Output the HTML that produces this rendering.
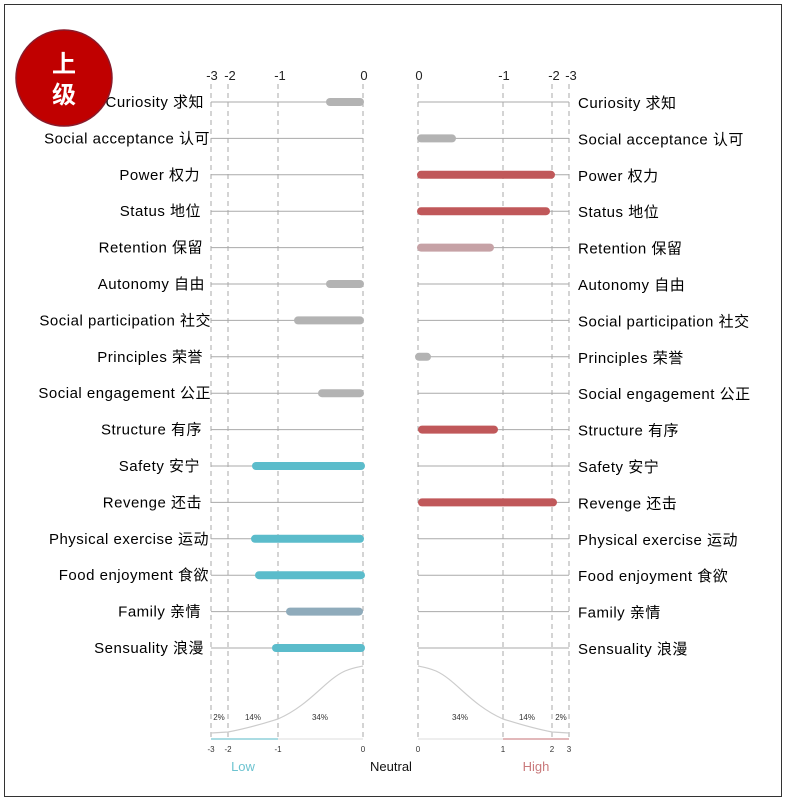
<!DOCTYPE html>
<html><head><meta charset="utf-8"><style>
body{margin:0;background:#fff;}
svg{display:block;font-family:"Liberation Sans","Noto Sans CJK SC",sans-serif;}
</style></head><body>
<svg width="785" height="803" viewBox="0 0 785 803" xmlns="http://www.w3.org/2000/svg">
<rect x="4.5" y="4.5" width="777" height="792" fill="#fff" stroke="#333" stroke-width="1"/>
<g stroke="#aaa" stroke-width="1" stroke-dasharray="5,4">
<line x1="211" y1="84" x2="211" y2="740"/><line x1="228" y1="84" x2="228" y2="740"/>
<line x1="278" y1="84" x2="278" y2="740"/><line x1="363" y1="84" x2="363" y2="740"/>
<line x1="418" y1="84" x2="418" y2="740"/><line x1="503" y1="84" x2="503" y2="740"/>
<line x1="552" y1="84" x2="552" y2="740"/><line x1="569" y1="84" x2="569" y2="740"/>
</g>
<g font-size="13" fill="#222" text-anchor="middle">
<text x="212" y="80">-3</text><text x="230" y="80">-2</text><text x="280" y="80">-1</text><text x="364" y="80">0</text>
<text x="419" y="80">0</text><text x="504" y="80">-1</text><text x="554" y="80">-2</text><text x="571" y="80">-3</text>
</g>
<g stroke="#aaa" stroke-width="1">
<line x1="211" y1="102" x2="363" y2="102"/><line x1="418" y1="102" x2="569" y2="102"/>
<line x1="211" y1="138.4" x2="363" y2="138.4"/><line x1="418" y1="138.4" x2="569" y2="138.4"/>
<line x1="211" y1="174.8" x2="363" y2="174.8"/><line x1="418" y1="174.8" x2="569" y2="174.8"/>
<line x1="211" y1="211.2" x2="363" y2="211.2"/><line x1="418" y1="211.2" x2="569" y2="211.2"/>
<line x1="211" y1="247.6" x2="363" y2="247.6"/><line x1="418" y1="247.6" x2="569" y2="247.6"/>
<line x1="211" y1="284" x2="363" y2="284"/><line x1="418" y1="284" x2="569" y2="284"/>
<line x1="211" y1="320.4" x2="363" y2="320.4"/><line x1="418" y1="320.4" x2="569" y2="320.4"/>
<line x1="211" y1="356.8" x2="363" y2="356.8"/><line x1="418" y1="356.8" x2="569" y2="356.8"/>
<line x1="211" y1="393.2" x2="363" y2="393.2"/><line x1="418" y1="393.2" x2="569" y2="393.2"/>
<line x1="211" y1="429.6" x2="363" y2="429.6"/><line x1="418" y1="429.6" x2="569" y2="429.6"/>
<line x1="211" y1="466" x2="363" y2="466"/><line x1="418" y1="466" x2="569" y2="466"/>
<line x1="211" y1="502.4" x2="363" y2="502.4"/><line x1="418" y1="502.4" x2="569" y2="502.4"/>
<line x1="211" y1="538.8" x2="363" y2="538.8"/><line x1="418" y1="538.8" x2="569" y2="538.8"/>
<line x1="211" y1="575.2" x2="363" y2="575.2"/><line x1="418" y1="575.2" x2="569" y2="575.2"/>
<line x1="211" y1="611.6" x2="363" y2="611.6"/><line x1="418" y1="611.6" x2="569" y2="611.6"/>
<line x1="211" y1="648" x2="363" y2="648"/><line x1="418" y1="648" x2="569" y2="648"/>
</g>
<g stroke-width="8" stroke-linecap="round" fill="none">
<line x1="330" y1="102" x2="360" y2="102" stroke="#b3b3b3"/>
<line x1="330" y1="284" x2="360" y2="284" stroke="#b3b3b3"/>
<line x1="298" y1="320.4" x2="360" y2="320.4" stroke="#b3b3b3"/>
<line x1="322" y1="393.2" x2="360" y2="393.2" stroke="#b3b3b3"/>
<line x1="256" y1="466" x2="361" y2="466" stroke="#5bbccb"/>
<line x1="255" y1="538.8" x2="360" y2="538.8" stroke="#5bbccb"/>
<line x1="259" y1="575.2" x2="361" y2="575.2" stroke="#5bbccb"/>
<line x1="290" y1="611.6" x2="359" y2="611.6" stroke="#8fabbb"/>
<line x1="276" y1="648" x2="361" y2="648" stroke="#5bbccb"/>
<line x1="421" y1="138.4" x2="452" y2="138.4" stroke="#b3b3b3"/>
<line x1="421" y1="174.8" x2="551" y2="174.8" stroke="#c0585a"/>
<line x1="421" y1="211.2" x2="546" y2="211.2" stroke="#c0585a"/>
<line x1="421" y1="247.6" x2="490" y2="247.6" stroke="#c6a2a6"/>
<line x1="419" y1="356.8" x2="427" y2="356.8" stroke="#b3b3b3"/>
<line x1="422" y1="429.6" x2="494" y2="429.6" stroke="#c0585a"/>
<line x1="422" y1="502.4" x2="553" y2="502.4" stroke="#c0585a"/>
</g>
<g font-size="15" letter-spacing="0.5" fill="#000" text-anchor="end">
<text x="204" y="107">Curiosity 求知</text>
<text x="210" y="143.4">Social acceptance 认可</text>
<text x="200" y="179.8">Power 权力</text>
<text x="201" y="216.2">Status 地位</text>
<text x="203" y="252.6">Retention 保留</text>
<text x="205" y="289">Autonomy 自由</text>
<text x="211" y="325.4">Social participation 社交</text>
<text x="203" y="361.8">Principles 荣誉</text>
<text x="211" y="398.2">Social engagement 公正</text>
<text x="202" y="434.6">Structure 有序</text>
<text x="200" y="471">Safety 安宁</text>
<text x="202" y="507.4">Revenge 还击</text>
<text x="209" y="543.8">Physical exercise 运动</text>
<text x="209" y="580.2">Food enjoyment 食欲</text>
<text x="201" y="616.6">Family 亲情</text>
<text x="204" y="653">Sensuality 浪漫</text>
</g>
<g font-size="15" letter-spacing="0.5" fill="#000">
<text x="578" y="108">Curiosity 求知</text>
<text x="578" y="144.4">Social acceptance 认可</text>
<text x="578" y="180.8">Power 权力</text>
<text x="578" y="217.2">Status 地位</text>
<text x="578" y="253.6">Retention 保留</text>
<text x="578" y="290">Autonomy 自由</text>
<text x="578" y="326.4">Social participation 社交</text>
<text x="578" y="362.8">Principles 荣誉</text>
<text x="578" y="399.2">Social engagement 公正</text>
<text x="578" y="435.6">Structure 有序</text>
<text x="578" y="472">Safety 安宁</text>
<text x="578" y="508.4">Revenge 还击</text>
<text x="578" y="544.8">Physical exercise 运动</text>
<text x="578" y="581.2">Food enjoyment 食欲</text>
<text x="578" y="617.6">Family 亲情</text>
<text x="578" y="654">Sensuality 浪漫</text>
</g>
<path d="M211,733 L228,732 C250,728 265,723 278,719 C310,705 325,680 345,671 C352,668 358,667 363,666" fill="none" stroke="#ccc" stroke-width="1.2"/>
<path d="M418,666 C423,667 429,668 436,671 C456,680 471,705 503,719 C516,723 531,728 552,732 L569,733" fill="none" stroke="#ccc" stroke-width="1.2"/>
<line x1="211" y1="739" x2="278" y2="739" stroke="#8fd0da" stroke-width="1.5"/>
<line x1="278" y1="739" x2="363" y2="739" stroke="#ddd" stroke-width="1"/>
<line x1="418" y1="739" x2="503" y2="739" stroke="#ddd" stroke-width="1"/>
<line x1="503" y1="739" x2="569" y2="739" stroke="#d9a0a3" stroke-width="1.5"/>
<g font-size="8" fill="#333" text-anchor="middle">
<text x="219" y="720">2%</text><text x="253" y="720">14%</text><text x="320" y="720">34%</text>
<text x="460" y="720">34%</text><text x="527" y="720">14%</text><text x="561" y="720">2%</text>
<text x="211" y="752">-3</text><text x="228" y="752">-2</text><text x="278" y="752">-1</text><text x="363" y="752">0</text>
<text x="418" y="752">0</text><text x="503" y="752">1</text><text x="552" y="752">2</text><text x="569" y="752">3</text>
</g>
<text x="243" y="771" font-size="13" fill="#6cc3d0" text-anchor="middle">Low</text>
<text x="391" y="771" font-size="13" fill="#111" text-anchor="middle">Neutral</text>
<text x="536" y="771" font-size="13" fill="#c97a7c" text-anchor="middle">High</text>
<circle cx="64" cy="78" r="48" fill="#c00000" stroke="#8a1a2a" stroke-width="1.5"/>
<text x="64" y="72" font-size="24" font-weight="bold" fill="#fff" text-anchor="middle">上</text>
<text x="64" y="103" font-size="24" font-weight="bold" fill="#fff" text-anchor="middle">级</text>
</svg>
</body></html>
